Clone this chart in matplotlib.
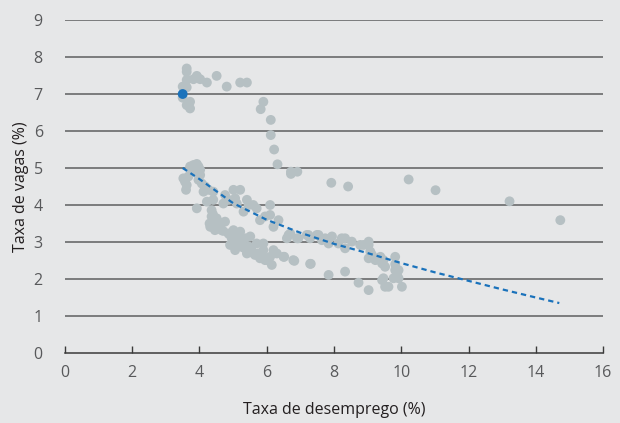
import numpy as np
import matplotlib
matplotlib.use("Agg")
import matplotlib.pyplot as plt

# unemployment rate (x) and vacancy rate (y)
desemprego = [
    # upper loop
    3.62, 3.62, 3.62, 3.82, 3.92, 4.02, 4.22, 4.51, 4.81, 5.21, 5.41, 3.5, 3.62,
    3.5, 3.62, 3.72, 3.72, 5.9, 5.82, 6.12, 6.12, 6.22, 6.32, 6.72, 6.72, 6.91,
    # outliers on the right
    7.92, 8.42, 10.22, 11.02, 13.22, 14.73,
    # cluster near 4, 4.5-5
    3.82, 3.92, 3.72, 3.87, 3.97, 4.02, 4.02, 3.52, 3.57, 3.62, 3.6, 3.67, 3.77,
    3.97, 4.07,
    # band 4-6.3, 3.4-4.5
    4.17, 4.27, 4.12, 4.41, 4.22, 3.92, 4.41, 4.76, 4.86, 5.01, 5.21, 5.06, 4.71,
    5.11, 5.41, 5.46, 5.6, 5.31, 5.7, 6.1, 5.8, 5.95, 6.1, 6.2, 6.35,
    # lower band 4.2-7.3
    4.36, 4.36, 4.32, 4.51, 4.61, 4.46, 4.66, 4.76, 4.86, 4.96, 5.01, 5.11, 5.21,
    5.26, 5.36, 5.46, 5.41, 5.55, 5.65, 5.75, 5.8, 5.9, 5.95, 6.1, 6.15, 6.2,
    6.3, 6.5, 6.79, 7.29, 4.91, 5.06, 5.51, 5.7, 5.9,
    4.3, 4.5, 4.7, 4.9, 5.0, 5.2, 5.3, 5.5, 5.6, 5.85, 6.05, 4.4, 4.55, 5.15,
    # band 6.5-10
    6.6, 6.94, 7.19, 7.49, 7.29, 6.65, 6.7, 6.9, 7.24, 7.54, 7.64, 7.74, 7.84,
    7.94, 8.13, 8.23, 8.33, 8.33, 8.53, 8.78, 8.88, 9.03, 9.03, 9.08, 9.13, 9.03,
    9.23, 9.38, 9.43, 9.52, 9.47, 9.82, 9.82, 9.87, 9.92, 9.77, 9.47, 9.43, 9.52,
    9.62, 10.02, 9.03, 8.73, 8.33, 7.84, 7.31, 6.82, 6.52, 9.82, 9.92,
]
vagas = [
    7.69, 7.6, 7.38, 7.4, 7.49, 7.4, 7.31, 7.49, 7.2, 7.31, 7.31, 7.2, 7.18,
    6.9, 6.7, 6.79, 6.61, 6.79, 6.59, 6.3, 5.89, 5.5, 5.1, 4.84, 4.9, 4.9,
    4.6, 4.5, 4.69, 4.4, 4.1, 3.59,
    5.08, 5.11, 5.04, 4.99, 5.04, 4.95, 4.81, 4.72, 4.63, 4.54, 4.41, 4.77, 4.9,
    4.68, 4.58,
    4.5, 4.41, 4.36, 4.36, 4.09, 3.91, 4.14, 4.27, 4.14, 4.41, 4.41, 4.18, 4.04,
    4.04, 4.14, 4.0, 4.0, 3.82, 3.91, 4.0, 3.59, 3.69, 3.73, 3.41, 3.59,
    3.86, 3.69, 3.41, 3.64, 3.5, 3.32, 3.32, 3.55, 3.23, 3.1, 3.32, 3.05, 3.28,
    2.96, 3.1, 2.88, 2.69, 2.78, 2.65, 2.69, 2.56, 2.78, 2.51, 2.6, 2.38, 2.78,
    2.69, 2.6, 2.51, 2.41, 2.92, 2.78, 3.15, 2.96, 2.96,
    3.5, 3.4, 3.3, 3.2, 3.0, 2.95, 2.85, 2.75, 2.7, 2.65, 2.5, 3.75, 3.55, 3.15,
    3.1, 3.1, 3.19, 3.19, 3.1, 3.19, 3.23, 3.1, 3.19, 3.19, 3.05, 3.1, 2.96,
    3.15, 2.96, 3.1, 3.1, 2.83, 3.01, 2.92, 2.92, 3.01, 2.92, 2.74, 2.65, 2.56,
    2.51, 2.6, 2.42, 2.33, 2.51, 2.6, 2.24, 2.11, 2.02, 2.02, 2.02, 1.97, 1.79,
    1.79, 1.79, 1.7, 1.9, 2.2, 2.11, 2.41, 2.49, 2.6, 2.4, 2.24,
]

# highlighted latest observation
destaque_x = [3.5]
destaque_y = [7.0]

# trend line
tend_x = [3.5, 4, 5, 6, 7, 8, 9, 10, 11, 12, 13, 14, 14.7]
tend_y = [5.0, 4.7, 4.05, 3.6, 3.25, 2.95, 2.7, 2.43, 2.18, 1.95, 1.72, 1.5, 1.35]

fundo = "#e6e7e8"
cinza_pt = "#b6c0c3"
azul = "#1a72bb"
grade = "#5d5e60"
texto = "#58595b"

plt.rcParams["font.family"] = ["Open Sans", "DejaVu Sans"]

fig = plt.figure(figsize=(6.2, 4.23), dpi=100, facecolor=fundo)
ax = fig.add_axes([0.1048, 0.1655, 0.8678, 0.7872], facecolor=fundo)

for yv in range(1, 10):
    ax.axhline(yv, color=grade, lw=1.1, zorder=1)

ax.scatter(desemprego, vagas, s=50, color=cinza_pt, edgecolors="none", zorder=2)
ax.plot(tend_x, tend_y, color=azul, lw=1.6, ls=(0, (2.4, 1.8)), zorder=3)
ax.scatter(destaque_x, destaque_y, s=50, color=azul, edgecolors="none", zorder=4)

ax.set_xlim(0, 16)
ax.set_ylim(0, 9)
ax.set_xticks(range(0, 17, 2))
ax.set_yticks(range(0, 10))

for s in ["top", "right", "left"]:
    ax.spines[s].set_visible(False)
ax.spines["bottom"].set_color("#3a3a3a")
ax.spines["bottom"].set_linewidth(1.1)

ax.tick_params(axis="x", direction="in", length=5, width=1, color="#3a3a3a",
               pad=9, labelsize=11.5, labelcolor=texto)
ax.tick_params(axis="y", length=0, pad=16, labelsize=11.5, labelcolor=texto)

ax.set_xlabel("Taxa de desemprego (%)", fontsize=11.5, color="#231f20")
ax.set_ylabel("Taxa de vagas (%)", fontsize=11.5, color="#231f20")
ax.xaxis.set_label_coords(0.5, -0.147)
ax.yaxis.set_label_coords(-0.067, 0.5)

fig.savefig("out.png", dpi=100, facecolor=fundo)
